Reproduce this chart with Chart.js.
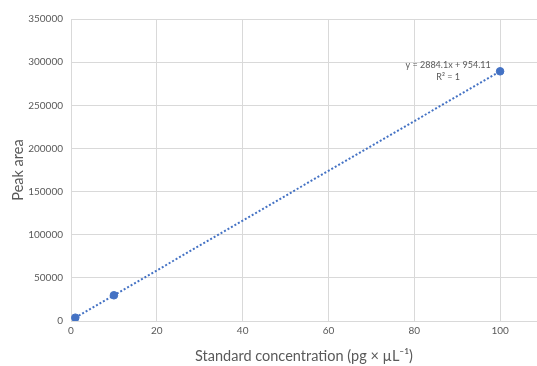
<!DOCTYPE html>
<html>
<head>
<meta charset="utf-8">
<script src="https://cdn.jsdelivr.net/npm/chart.js@4/dist/chart.umd.min.js"></script>
<style>
  html, body { margin: 0; padding: 0; background: #fff; }
  #wrap { width: 537px; height: 366px; }
</style>
</head>
<body>
<div id="wrap"><canvas id="c" width="537" height="366"></canvas></div>
<script>
// data
const concentrations = [1, 10, 100];
const peakAreas = [3838, 29795, 289364];
const trendX = [1, 100];
const trendY = [3838, 289364];
const equationLines = ['y = 2884.1x + 954.11', 'R\u00b2 = 1'];

const BLUE = '#4472c4';
const GREY_TEXT = '#595959';
const GRID = '#d9d9d9';
const FONT = 'Lato, "Open Sans", sans-serif';

const equationLabel = {
  id: 'equationLabel',
  afterDatasetsDraw(chart) {
    const { ctx, scales } = chart;
    const px = scales.x.getPixelForValue(trendX[1]);
    const py = scales.y.getPixelForValue(trendY[1]);
    ctx.save();
    ctx.font = '9px ' + FONT;
    ctx.fillStyle = GREY_TEXT;
    ctx.textAlign = 'center';
    ctx.textBaseline = 'middle';
    ctx.fillText(equationLines[0], px - 52, py - 6);
    ctx.fillText(equationLines[1], px - 52, py + 6);
    ctx.restore();
  },
};

new Chart(document.getElementById('c'), {
  type: 'scatter',
  data: {
    datasets: [
      {
        label: 'Linear (Peak area)',
        type: 'line',
        data: trendX.map((x, i) => ({ x, y: trendY[i] })),
        borderColor: BLUE,
        borderWidth: 2,
        borderDash: [2, 2],
        pointRadius: 0,
        fill: false,
        order: 2,
      },
      {
        label: 'Peak area',
        data: concentrations.map((x, i) => ({ x, y: peakAreas[i] })),
        backgroundColor: BLUE,
        borderColor: BLUE,
        pointRadius: 3.8,
        order: 1,
      },
    ],
  },
  plugins: [equationLabel],
  options: {
    responsive: false,
    animation: false,
    layout: { autoPadding: false, padding: { top: 19, right: 0, bottom: 0, left: 0 } },
    plugins: { legend: { display: false }, tooltip: { enabled: false } },
    scales: {
      x: {
        type: 'linear',
        min: 0,
        max: 108.6,
        ticks: {
          stepSize: 20,
          includeBounds: false,
          color: GREY_TEXT,
          font: { family: FONT, size: 10 },
          padding: 4,
        },
        grid: { color: GRID, drawTicks: false },
        border: { color: GRID },
        title: {
          display: true,
          text: 'Standard concentration (pg \u00d7 \u00b5L\u207b\u00b9)',
          color: GREY_TEXT,
          font: { family: FONT, size: 14.5 },
          padding: { top: 12, bottom: 1 },
        },
        afterFit(scale) {
          scale.height = 45;
          scale.paddingLeft = 0;
          scale.paddingRight = 0;
        },
      },
      y: {
        min: 0,
        max: 350000,
        ticks: {
          stepSize: 50000,
          color: GREY_TEXT,
          font: { family: FONT, size: 10 },
          padding: 8,
          callback: (v) => String(v),
        },
        grid: { color: GRID, drawTicks: false },
        border: { color: GRID },
        title: {
          display: true,
          text: 'Peak area',
          color: GREY_TEXT,
          font: { family: FONT, size: 14.5 },
          padding: { top: 10, bottom: 2 },
        },
        afterFit(scale) {
          scale.width = 71;
          scale.paddingTop = 0;
          scale.paddingBottom = 0;
        },
      },
    },
  },
});
</script>
</body>
</html>
